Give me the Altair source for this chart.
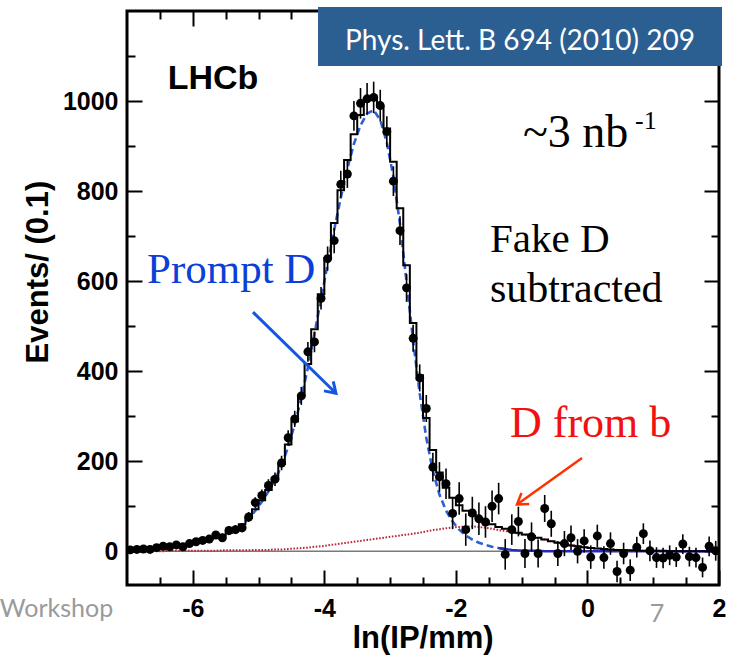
import altair as alt
import pandas as pd

# ---------------- data ----------------
x_centers = [round(-6.95 + 0.1 * i, 2) for i in range(90)]

counts = [
    3, 4, 5, 4, 8, 11, 10, 14, 10, 17,
    21, 24, 27, 36, 30, 46, 48, 52, 76, 108,
    124, 146, 160, 196, 252, 294, 345, 443, 465, 562,
    650, 690, 815, 838, 967, 995, 1005, 1008, 990, 932,
    822, 712, 585, 473, 385, 317, 187, 165, 150, 84,
    117, 48, 85, 72, 65, 100, 117, -7, 48, 66,
    -5, 32, -5, 95, 61, -5, 17, 30, 0, 23,
    -13, 34, -14, 17, -45, -5, -42, 9, 39, 1,
    -14, -15, -9, -13, 16, -12, -14, -36, 11, 1,
]
errors = [
    6, 6, 6, 6, 6, 6, 6, 6, 6, 6,
    8, 8, 9, 9, 9, 10, 10, 10, 11, 12,
    13, 14, 15, 16, 17, 18, 20, 22, 23, 25,
    27, 28, 30, 31, 33, 34, 35, 35, 35, 34,
    33, 32, 31, 30, 30, 30, 32, 33, 34, 35,
    36, 36, 36, 36, 35, 35, 35, 34, 34, 33,
    32, 32, 31, 30, 29, 28, 28, 27, 27, 26,
    26, 25, 25, 25, 24, 24, 24, 23, 23, 23,
    23, 23, 22, 22, 22, 22, 22, 22, 22, 22,
]
prompt = [
    3, 4, 5, 6, 7, 9, 10, 12, 13, 15,
    18, 21, 25, 29, 33, 39, 47, 58, 72, 90,
    110, 133, 159, 190, 232, 282, 340, 408, 483, 560,
    638, 714, 785, 850, 905, 946, 972, 980, 958, 908,
    832, 727, 598, 468, 350, 252, 178, 126, 90, 66,
    48, 35, 26, 19, 14, 10, 7, 5, 3, 2,
    1, 1, 1, 0, 0, 0, 0, 0, 0, 0,
    0, 0, 0, 0, 0, 0, 0, 0, 0, 0,
    0, 0, 0, 0, 0, 0, 0, 0, 0, 0,
]
from_b = [
    0, 0, 0, 0, 0, 0, 1, 1, 1, 1,
    1, 1, 1, 1, 2, 2, 2, 2, 2, 3,
    3, 3, 4, 4, 5, 6, 7, 8, 10, 11,
    13, 15, 17, 19, 21, 23, 25, 27, 29, 31,
    33, 35, 37, 39, 41, 44, 47, 49, 51, 53,
    54, 55, 55, 54, 52, 50, 47, 45, 42, 39,
    36, 33, 29, 26, 22, 19, 16, 13, 11, 9,
    7, 6, 5, 4, 3, 3, 2, 2, 1, 1,
    1, 1, 0, 0, 0, 0, 0, 0, 0, 0,
]
fit_total = [
    3, 4, 5, 6, 7, 9, 11, 13, 14, 16,
    19, 22, 26, 30, 35, 41, 49, 60, 74, 93,
    113, 136, 163, 194, 237, 288, 347, 416, 493, 571,
    651, 729, 802, 869, 926, 969, 1002, 1010, 987, 939,
    865, 762, 635, 507, 391, 296, 225, 175, 141, 119,
    102, 90, 81, 73, 66, 60, 54, 50, 45, 41,
    37, 34, 30, 26, 22, 19, 16, 13, 11, 9,
    7, 6, 5, 4, 3, 3, 2, 2, 1, 1,
    1, 1, 0, 0, 0, 0, 0, 0, 0, 0,
]

x_major = [-6, -4, -2, 0, 2]
x_minor = [-6.5, -5.5, -5, -4.5, -3.5, -3, -2.5, -1.5, -1, -0.5, 0.5, 1, 1.5]
y_major = [0, 200, 400, 600, 800, 1000]
y_minor = [100, 300, 500, 700, 900, 1100]

XDOM = [-7, 2]
YDOM = [-75, 1200]

# ---------------- tables ----------------
pts = pd.DataFrame({"x": x_centers, "y": counts, "err": errors})
pts["lo"] = pts["y"] - pts["err"]
pts["hi"] = pts["y"] + pts["err"]

comp = pd.DataFrame({"x": x_centers, "prompt": prompt, "b": from_b})
hist = pd.DataFrame({"x": [round(c - 0.05, 2) for c in x_centers] + [2.0],
                     "y": fit_total + [fit_total[-1]]})
dashed = comp[comp["x"] <= -1.2]
solid = comp[comp["x"] >= -1.35]

SANS = "Liberation Sans"
SERIF = "Liberation Serif"


def X(field="x", axis=None):
    return alt.X(field, type="quantitative",
                 scale=alt.Scale(domain=XDOM, nice=False, zero=False), axis=axis)


def Y(field="y", axis=None):
    return alt.Y(field, type="quantitative",
                 scale=alt.Scale(domain=YDOM, nice=False, zero=False), axis=axis)


def mk_axis(orient, values, size, labels, pad=10):
    kw = dict(orient=orient, values=values, tickSize=size, offset=-size,
              domain=False, grid=False, ticks=True, tickColor="black",
              tickWidth=2, title=None, labels=labels, zindex=0)
    if labels:
        kw.update(labelFont=SANS, labelFontWeight="bold", labelFontSize=25,
                  labelColor="black", labelPadding=pad,
                  labelExpr="'' + datum.value", labelOverlap=False,
                  labelFlush=False)
    return alt.Axis(**kw)


zero = alt.Chart(pd.DataFrame({"y": [0]})).mark_rule(
    color="#7a7a7a", strokeWidth=1.5).encode(y=Y("y"))

b_line = alt.Chart(comp).mark_line(
    color="#b8283a", strokeDash=[1.6, 1.6], strokeWidth=2, clip=True
).encode(x=X("x", mk_axis("top", x_minor, 8, False)),
         y=Y("b", mk_axis("right", y_minor, 8, False)))

prompt_dash = alt.Chart(dashed).mark_line(
    color="#2f5fd6", strokeDash=[7, 4], strokeWidth=2.6, clip=True
).encode(x=X("x", mk_axis("top", x_major, 15, False)),
         y=Y("prompt", mk_axis("right", y_major, 15, False)))

prompt_solid = alt.Chart(solid).mark_line(
    color="#2626b8", strokeWidth=2.4, clip=True
).encode(x=X("x"), y=Y("prompt"))

hist_line = alt.Chart(hist).mark_line(
    interpolate="step-after", color="black", strokeWidth=2, clip=True
).encode(x=X("x", mk_axis("bottom", x_major, 15, True, 11)),
         y=Y("y", mk_axis("left", y_major, 15, True, 9)))

ebars = alt.Chart(pts).mark_rule(color="black", strokeWidth=1.6, clip=True).encode(
    x=X("x"), y=Y("lo"), y2="hi")

dots = alt.Chart(pts).mark_circle(size=80, color="black", opacity=1, clip=True).encode(
    x=X("x", mk_axis("bottom", x_minor, 8, False)),
    y=Y("y", mk_axis("left", y_minor, 8, False)))

frame = alt.Chart(pd.DataFrame({"x": [-7], "x2": [2], "y": [-75], "y2": [1200]})).mark_rect(
    filled=False, stroke="black", strokeWidth=3
).encode(x=X("x"), x2="x2", y=Y("y"), y2="y2")


def txt(x, y, text, **kw):
    return alt.Chart(pd.DataFrame({"x": [x], "y": [y], "t": [text]})).mark_text(**kw).encode(
        x=X("x"), y=Y("y"), text="t:N")


def arrow(x0, y0, x1, y1, color, width, angle):
    d = pd.DataFrame({"x": [x0, x1], "y": [y0, y1]})
    ln = alt.Chart(d).mark_line(color=color, strokeWidth=width).encode(x=X("x"), y=Y("y"))
    head = alt.Chart(d.iloc[[1]]).mark_point(
        shape="M -0.65 1 L 0 0 L 0.65 1", filled=False, stroke=color,
        strokeWidth=width, size=420, angle=angle, opacity=1
    ).encode(x=X("x"), y=Y("y"))
    return ln + head


box = alt.Chart(pd.DataFrame({"x": [-4.096], "x2": [2.046], "y": [1078], "y2": [1209]})).mark_rect(
    color="#2c5f91"
).encode(x=X("x"), x2="x2", y=Y("y"), y2="y2")

layers = [
    zero, b_line, prompt_dash, prompt_solid, hist_line, ebars, dots, frame,
    txt(-5.693, 1027, "LHCb", font=SANS, fontWeight="bold", fontSize=34,
        align="center", baseline="alphabetic", color="black"),
    txt(-0.980, 897, "~3 nb", font=SERIF, fontSize=46, align="left",
        baseline="alphabetic", color="black"),
    txt(0.723, 937, "-1", font=SERIF, fontSize=26, align="left",
        baseline="alphabetic", color="black"),
    txt(-1.481, 664, "Fake D", font=SERIF, fontSize=41, align="left",
        baseline="alphabetic", color="black"),
    txt(-1.481, 553, "subtracted", font=SERIF, fontSize=42, align="left",
        baseline="alphabetic", color="black"),
    txt(-6.696, 595, "Prompt D", font=SERIF, fontSize=43, align="left",
        baseline="alphabetic", color="#0b3fd6"),
    txt(-1.178, 253, "D from b", font=SERIF, fontSize=44, align="left",
        baseline="alphabetic", color="#f21010"),
    arrow(-5.085, 531, -3.823, 351, "#1556e0", 3, 134),
    arrow(-0.083, 207, -1.071, 104, "#ff3300", 2.5, 234.5),
    box,
    txt(-1.026, 1113, "Phys. Lett. B 694 (2010) 209", font="Lato", fontSize=28,
        align="center", baseline="alphabetic", color="white"),
    txt(-7.21, -147, "Workshop", font="Lato", fontSize=25, align="right",
        baseline="alphabetic", color="#9a9a9a"),
    txt(1.057, -158, "7", font="Lato", fontSize=25, align="center",
        baseline="alphabetic", color="#9a9a9a"),
    txt(-8.338, 620, "Events/ (0.1)", font=SANS, fontWeight="bold", fontSize=31,
        align="center", baseline="middle", angle=270, color="black"),
    txt(-2.5, -216, "ln(IP/mm)", font=SANS, fontWeight="bold", fontSize=31,
        align="center", baseline="alphabetic", color="black"),
]

chart = alt.layer(*layers).resolve_axis(
    x="independent", y="independent"
).properties(
    width=592, height=574,
    autosize=alt.AutoSizeParams(type="none"),
    padding={"left": 127, "top": 11, "right": 14, "bottom": 74},
    background="white",
).configure_view(stroke=None)

chart.save("out.html", embed_options={"renderer": "svg", "actions": False})
